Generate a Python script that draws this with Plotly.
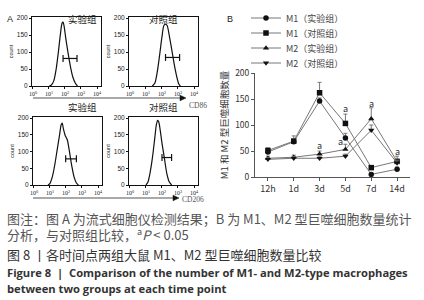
import plotly.graph_objects as go

W, H = 424, 300

# ---------------- Flow cytometry histograms (log10 intensity, count) ----------------
cd86_exp_log = [1.02, 1.15, 1.30, 1.45, 1.60, 1.72, 1.82, 1.88, 1.95, 2.05, 2.20, 2.35, 2.50, 2.65, 2.78]
cd86_exp_cnt = [0, 3, 15, 50, 105, 155, 185, 188, 175, 140, 95, 55, 25, 8, 0]

cd86_ctl_log = [1.40, 1.55, 1.70, 1.85, 2.00, 2.12, 2.22, 2.32, 2.45, 2.60, 2.78, 2.95, 3.05, 3.15]
cd86_ctl_cnt = [0, 8, 40, 90, 145, 178, 182, 178, 150, 110, 60, 22, 6, 0]

cd206_exp_log = [0.88, 1.00, 1.15, 1.30, 1.45, 1.60, 1.70, 1.76, 1.85, 1.95, 2.08, 2.20, 2.35, 2.50, 2.65, 2.78]
cd206_exp_cnt = [0, 5, 25, 60, 105, 150, 180, 185, 165, 148, 135, 105, 60, 25, 6, 0]

cd206_ctl_log = [1.00, 1.12, 1.25, 1.40, 1.55, 1.65, 1.73, 1.80, 1.90, 2.00, 2.15, 2.30, 2.45, 2.60]
cd206_ctl_cnt = [0, 8, 35, 80, 140, 180, 193, 188, 160, 125, 80, 35, 10, 0]

gate_lo = [1.88, 2.22, 1.98, 2.00]
gate_hi = [2.75, 3.10, 2.65, 2.60]
gate_cnt = [81, 84, 78, 82]

flow_titles = ["实验组", "对照组", "实验组", "对照组"]
flow_tickvals = [1, 10, 100, 1000, 10000]
flow_ticktext = ["10<sup>0</sup>", "10<sup>1</sup>", "10<sup>2</sup>", "10<sup>3</sup>", "10<sup>4</sup>"]
count_ticks = [0, 50, 100, 150, 200]

# ---------------- Panel B line chart ----------------
time_points = ["12h", "1d", "3d", "5d", "7d", "14d"]
m1_exp = [48, 68, 146, 75, 5, 15]
m1_ctl = [51, 69, 162, 103, 18, 30]
m2_exp = [36, 38, 44, 53, 112, 30]
m2_ctl = [34, 36, 36, 40, 90, 27]
m1_exp_err = [4, 5, 6, 9, 3, 4]
m1_ctl_err = [5, 10, 20, 18, 4, 10]
m2_exp_err = [4, 4, 6, 10, 21, 5]
m2_ctl_err = [3, 3, 3, 4, 10, 4]
series_names = ["M1（实验组）", "M1（对照组）", "M2（实验组）", "M2（对照组）"]
b_ticks = [0, 50, 100, 150, 200]
sig_x = ["3d", "5d", "5d", "7d", "14d"]
sig_y = [60, 131, 69, 142, 50]
sig_shift = [0, 0, -5, 0, 0]

CJK = "Noto Sans CJK SC, Noto Sans, sans-serif"
GRAY = "#555555"


def px(x):
    return x / W


def py(y):
    return 1 - y / H


fig = go.Figure()

flow_sets = [
    (cd86_exp_log, cd86_exp_cnt),
    (cd86_ctl_log, cd86_ctl_cnt),
    (cd206_exp_log, cd206_exp_cnt),
    (cd206_ctl_log, cd206_ctl_cnt),
]
boxes = [(32, 101, 17, 86), (129, 198, 17, 86), (33, 102, 117, 185), (129, 198, 117, 185)]

for i, ((lg, cnt), (x0, x1, y0, y1)) in enumerate(zip(flow_sets, boxes)):
    n = i + 1
    xa = "x" if n == 1 else f"x{n}"
    ya = "y" if n == 1 else f"y{n}"
    fig.add_trace(go.Scatter(
        x=[10 ** v for v in lg], y=cnt, mode="lines", line=dict(color="#111", width=1.2, shape="spline", smoothing=0.8),
        xaxis=xa, yaxis=ya, showlegend=False, hoverinfo="skip"))
    fig.add_trace(go.Scatter(
        x=[10 ** gate_lo[i], 10 ** gate_hi[i]], y=[gate_cnt[i], gate_cnt[i]], mode="lines+markers",
        line=dict(color="#111", width=1.2),
        marker=dict(symbol="line-ns-open", size=5, line=dict(color="#111", width=1.2)),
        xaxis=xa, yaxis=ya, showlegend=False, hoverinfo="skip"))
    axis_x = dict(type="log", range=[-0.06, 4.25], domain=[px(x0), px(x1)], anchor=ya, automargin=False,
                  tickvals=flow_tickvals, ticktext=flow_ticktext, tickfont=dict(size=6, color="#222", family="Liberation Serif"),
                  showline=True, mirror=True, linecolor="#111", linewidth=1, ticks="outside", ticklen=2,
                  tickcolor="#111", showgrid=False, zeroline=False)
    axis_y = dict(range=[0, 203], domain=[py(y1), py(y0)], anchor=xa, tickvals=count_ticks, automargin=False,
                  tickfont=dict(size=6.5, color="#222", family="Liberation Sans"),
                  showline=True, mirror=True, linecolor="#111", linewidth=1, ticks="outside", ticklen=2,
                  tickcolor="#111", showgrid=False, zeroline=False,
                  title=dict(text="count", font=dict(size=5.5, color="#222", family="Liberation Sans"), standoff=2))
    fig.update_layout(**{("xaxis" if n == 1 else f"xaxis{n}"): axis_x,
                         ("yaxis" if n == 1 else f"yaxis{n}"): axis_y})

# Panel B traces
series = [(m1_exp, m1_exp_err, "circle"), (m1_ctl, m1_ctl_err, "square"),
          (m2_exp, m2_exp_err, "triangle-up"), (m2_ctl, m2_ctl_err, "triangle-down")]
legend_ids = ["legend", "legend2", "legend3", "legend4"]
for (vals, err, sym), name, lid in zip(series, series_names, legend_ids):
    fig.add_trace(go.Scatter(
        x=time_points, y=vals, name=name, mode="lines+markers",
        line=dict(color="#777", width=1),
        marker=dict(symbol=sym, size=5.5, color="#111"),
        error_y=dict(type="data", array=err, arrayminus=[0] * len(err), symmetric=False,
                     color="#777", thickness=1, width=2),
        xaxis="x5", yaxis="y5", legend=lid))

fig.update_layout(
    xaxis5=dict(domain=[px(255), px(410)], anchor="y5", type="category", range=[-0.5, 5.5], automargin=False,
                showline=True, linecolor="#555", linewidth=1, ticks="outside", ticklen=3, tickcolor="#555",
                tickfont=dict(size=9, color="#333", family=CJK), showgrid=False, zeroline=False),
    yaxis5=dict(domain=[py(177), py(73)], anchor="x5", range=[0, 200], tickvals=b_ticks, automargin=False,
                showline=True, linecolor="#555", linewidth=1, ticks="outside", ticklen=3, tickcolor="#555",
                tickfont=dict(size=8.5, color="#333", family=CJK), showgrid=False, zeroline=False,
                title=dict(text="M1 和 M2 型巨噬细胞数量", font=dict(size=9.5, color="#333", family=CJK), standoff=4)),
)

leg_y = [18, 33, 48, 63]
for lid, yy in zip(legend_ids, leg_y):
    fig.update_layout(**{lid: dict(x=px(246), y=py(yy), xanchor="left", yanchor="middle",
                                   bgcolor="rgba(0,0,0,0)", font=dict(size=9, color="#444", family=CJK),
                                   itemwidth=30, borderwidth=0)})

annotations = []
for sx, sy, sh in zip(sig_x, sig_y, sig_shift):
    annotations.append(dict(x=sx, y=sy, xref="x5", yref="y5", text="a", showarrow=False, xshift=sh,
                            font=dict(size=9, color="#333", family=CJK)))

# Flow panel titles
centers = [(66, 10), (163, 10), (66, 107), (163, 107)]
for t, (cx, cy) in zip(flow_titles, centers):
    annotations.append(dict(x=px(cx), y=py(cy), xref="paper", yref="paper", text=t, showarrow=False,
                            font=dict(size=9.5, color="#222", family=CJK)))

annotations += [
    dict(x=px(5), y=py(12), xref="paper", yref="paper", text="A", showarrow=False, xanchor="left",
         font=dict(size=9, color="#222", family="Liberation Sans")),
    dict(x=px(225), y=py(12), xref="paper", yref="paper", text="B", showarrow=False, xanchor="left",
         font=dict(size=9, color="#222", family="Liberation Sans")),
    dict(x=px(187), y=py(99), xref="paper", yref="paper", text="CD86", showarrow=False, xanchor="left",
         font=dict(size=7.5, color="#555", family="Liberation Serif")),
    dict(x=px(180), y=py(199), xref="paper", yref="paper", text="CD206", showarrow=False, xanchor="left",
         font=dict(size=7.5, color="#555", family="Liberation Serif")),
]

captions = [
    ("图注：图 A 为流式细胞仪检测结果；B 为 M1、M2 型巨噬细胞数量统计", 218, 13, GRAY, CJK),
    ("分析，与对照组比较，<sup>a</sup><i>P</i> &lt; 0.05", 234, 13, GRAY, CJK),
    ("图 8 丨各时间点两组大鼠 M1、M2 型巨噬细胞数量比较", 254, 13, "#333", CJK),
    ("<b>Figure 8  |  Comparison of the number of M1- and M2-type macrophages</b>", 272, 11.2, "#333", "Open Sans"),
    ("<b>between two groups at each time point</b>", 288, 11.2, "#333", "Open Sans"),
]
for txt, yy, fs, col, fam in captions:
    annotations.append(dict(x=px(5), y=py(yy), xref="paper", yref="paper", text=txt, showarrow=False,
                            xanchor="left", yanchor="middle", font=dict(size=fs, color=col, family=fam)))

shapes = []
for (xa0, xa1, ya) in [(33, 180, 98), (33, 173, 198)]:
    shapes.append(dict(type="line", xref="paper", yref="paper", x0=px(xa0), x1=px(xa1), y0=py(ya), y1=py(ya),
                       line=dict(color="#555", width=1.2)))
    shapes.append(dict(type="path", xref="paper", yref="paper",
                       path=f"M {px(xa1 + 6)},{py(ya)} L {px(xa1)},{py(ya - 2.8)} L {px(xa1)},{py(ya + 2.8)} Z",
                       fillcolor="#111", line=dict(color="#111", width=0.5)))

fig.update_layout(
    width=W, height=H, margin=dict(l=0, r=0, t=0, b=0, pad=0, autoexpand=False),
    paper_bgcolor="white", plot_bgcolor="white",
    annotations=annotations, shapes=shapes,
    font=dict(family=CJK, color="#333"),
)

fig.write_html("out.html", config={"displayModeBar": False},
               post_script="document.body.style.margin='0px';")
